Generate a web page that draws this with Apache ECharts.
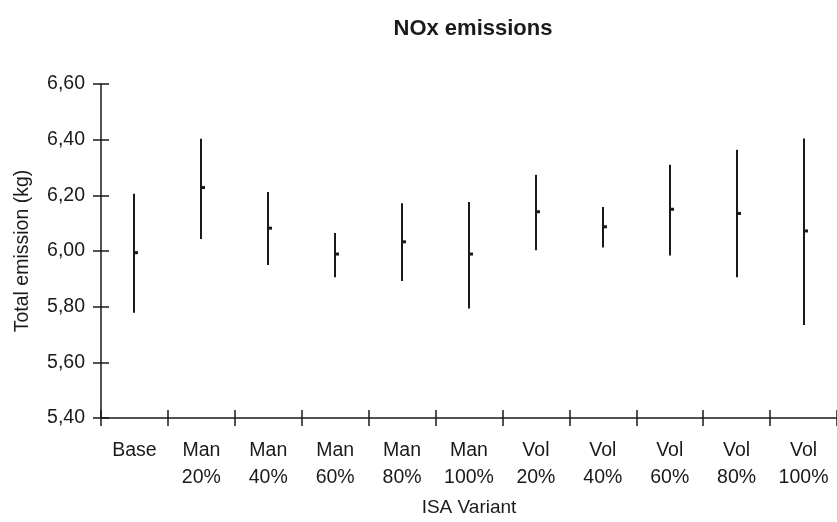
<!DOCTYPE html>
<html>
<head>
<meta charset="utf-8">
<script src="https://cdn.jsdelivr.net/npm/echarts@6/dist/echarts.min.js"></script>
<style>
html,body{margin:0;padding:0;background:#fff;}
#chart{width:837px;height:522px;}
</style>
</head>
<body>
<div id="chart"></div>
<script>
var categories = ['Base', 'Man\n20%', 'Man\n40%', 'Man\n60%', 'Man\n80%', 'Man\n100%', 'Vol\n20%', 'Vol\n40%', 'Vol\n60%', 'Vol\n80%', 'Vol\n100%'];
var lowValues  = [5.778, 6.043, 5.950, 5.906, 5.892, 5.793, 6.003, 6.013, 5.984, 5.906, 5.734];
var meanValues = [5.994, 6.228, 6.082, 5.989, 6.033, 5.989, 6.141, 6.087, 6.150, 6.135, 6.072];
var highValues = [6.206, 6.403, 6.212, 6.065, 6.172, 6.176, 6.274, 6.158, 6.310, 6.364, 6.404];
var yTicks = [5.40, 5.60, 5.80, 6.00, 6.20, 6.40, 6.60];

var FONT = 'Liberation Sans, Arial, sans-serif';
var INK = '#1a1a1a';

var data = categories.map(function (c, i) {
  return [i, lowValues[i], meanValues[i], highValues[i]];
});

var chart = echarts.init(document.getElementById('chart'));

function fmt(v) { return v.toFixed(2).replace('.', ','); }

var yMin = yTicks[0], yMax = yTicks[yTicks.length - 1], yStep = 0.2;

chart.setOption({
  animation: false,
  backgroundColor: '#fff',
  title: {
    text: 'NOx emissions',
    left: 468,
    top: 13,
    textAlign: 'center',
    textStyle: { fontFamily: FONT, fontWeight: 'bold', fontSize: 22, color: INK }
  },
  grid: { left: 101, top: 84, width: 740, height: 338, containLabel: false },
  xAxis: [{
    type: 'category',
    data: categories,
    boundaryGap: true,
    name: 'ISA Variant',
    nameLocation: 'middle',
    nameGap: 80,
    nameTextStyle: { fontFamily: FONT, fontSize: 19, color: INK },
    axisLine: { lineStyle: { color: INK, width: 1.5 } },
    axisTick: { show: true, length: 8, inside: false, alignWithLabel: false, lineStyle: { color: INK, width: 1.5 } },
    axisLabel: { interval: 0, margin: 19, fontFamily: FONT, fontSize: 19.5, lineHeight: 27, color: INK },
    splitLine: { show: false }
  }, {
    type: 'category',
    data: categories,
    position: 'bottom',
    boundaryGap: true,
    axisLine: { show: false },
    axisTick: { show: true, length: 8, inside: true, lineStyle: { color: INK, width: 1.5 } },
    axisLabel: { show: false },
    splitLine: { show: false }
  }],
  yAxis: [{
    type: 'value',
    min: yMin,
    max: yMax,
    interval: yStep,
    name: 'Total emission (kg)',
    nameLocation: 'middle',
    nameGap: 68,
    nameTextStyle: { fontFamily: FONT, fontSize: 19.5, color: INK },
    axisLine: { show: true, lineStyle: { color: INK, width: 1.5 } },
    axisTick: { show: true, length: 8, lineStyle: { color: INK, width: 1.5 } },
    axisLabel: { margin: 16, fontFamily: FONT, fontSize: 19.5, color: INK, formatter: fmt },
    splitLine: { show: false }
  }, {
    type: 'value',
    min: yMin,
    max: yMax,
    interval: yStep,
    position: 'left',
    axisLine: { show: false },
    axisTick: { show: true, length: 8, inside: true, lineStyle: { color: INK, width: 1.5 } },
    axisLabel: { show: false },
    splitLine: { show: false }
  }],
  series: [{
    type: 'custom',
    xAxisIndex: 0,
    yAxisIndex: 0,
    data: data,
    encode: { x: 0, y: [1, 2, 3] },
    renderItem: function (params, api) {
      var i = api.value(0);
      var lo = api.coord([i, api.value(1)]);
      var mid = api.coord([i, api.value(2)]);
      var hi = api.coord([i, api.value(3)]);
      var x = Math.round(lo[0]);
      return {
        type: 'group',
        children: [{
          type: 'line',
          shape: { x1: x, y1: hi[1], x2: x, y2: lo[1] },
          style: { stroke: INK, lineWidth: 2 }
        }, {
          type: 'rect',
          shape: { x: x, y: mid[1] - 1.5, width: 4, height: 3 },
          style: { fill: INK }
        }]
      };
    }
  }]
});
</script>
</body>
</html>
